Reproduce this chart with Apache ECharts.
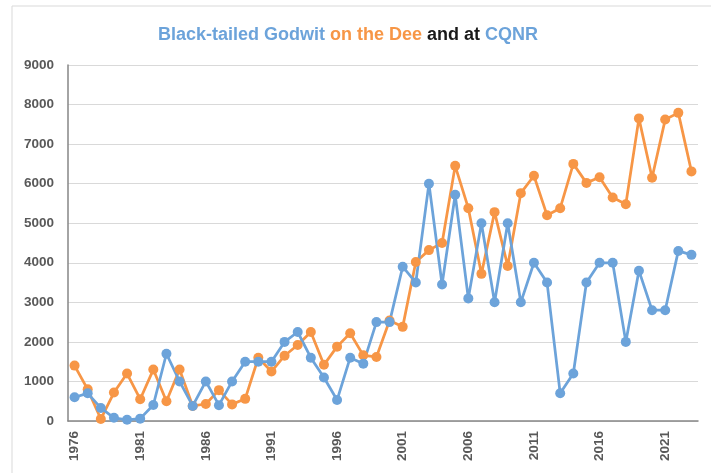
<!DOCTYPE html>
<html>
<head>
<meta charset="utf-8">
<script src="https://cdn.jsdelivr.net/npm/echarts@6/dist/echarts.min.js"></script>
<style>
  html, body { margin: 0; padding: 0; background: #fff; }
  #chart { width: 711px; height: 473px; }
</style>
</head>
<body>
<div id="chart"></div>
<script>
// years along the bottom
var years = [];
for (var y = 1976; y <= 2023; y++) years.push(String(y));

// Black-tailed Godwit counts
var deeCounts = [
  1400, 800, 50, 720, 1200, 550, 1300, 500, 1300, 380,
  430, 780, 420, 560, 1600, 1250, 1650, 1920, 2250, 1420,
  1880, 2220, 1660, 1620, 2540, 2380, 4020, 4320, 4500, 6450,
  5380, 3720, 5280, 3920, 5760, 6200, 5200, 5380, 6500, 6020,
  6160, 5650, 5480, 7650, 6150, 7620, 7790, 6310
];
var cqnrCounts = [
  600, 700, 330, 80, 30, 60, 405, 1700, 1000, 380,
  1000, 400, 1000, 1500, 1500, 1500, 2000, 2250, 1600, 1100,
  530, 1600, 1450, 2500, 2500, 3900, 3500, 6000, 3450, 5720,
  3100, 5000, 3000, 5000, 3000, 4000, 3500, 700, 1200, 3500,
  4000, 4000, 2000, 3800, 2800, 2800, 4300, 4200
];

var blue = '#6CA3DA';
var orange = '#F79646';
var labelFont = 'Liberation Sans';

var chart = echarts.init(document.getElementById('chart'));
chart.setOption({
  animation: false,
  backgroundColor: '#fff',
  title: {
    left: 343,
    top: 21,
    textAlign: 'center',
    text: '{b|Black-tailed Godwit }{o|on the Dee }{k|and at }{b|CQNR}',
    textStyle: {
      rich: {
        b: { color: blue, fontSize: 18, fontWeight: 'bold', fontFamily: labelFont },
        o: { color: orange, fontSize: 18, fontWeight: 'bold', fontFamily: labelFont },
        k: { color: '#1a1a1a', fontSize: 18, fontWeight: 'bold', fontFamily: labelFont }
      }
    }
  },
  graphic: [{
    type: 'rect',
    shape: { x: 12, y: 6, width: 760, height: 520 },
    style: { fill: 'none', stroke: '#d9d9d9', lineWidth: 1 },
    silent: true,
    z: -1
  }],
  grid: { left: 68, right: 13, top: 65, bottom: 52 },
  xAxis: {
    type: 'category',
    data: years,
    axisLine: { lineStyle: { color: '#868686', width: 1.5 } },
    axisTick: { interval: 0, length: 5, lineStyle: { color: '#868686' } },
    axisLabel: {
      interval: 4,
      rotate: 90,
      margin: 10,
      color: '#595959',
      fontSize: 13.5,
      fontWeight: 'bold',
      fontFamily: labelFont
    }
  },
  yAxis: {
    type: 'value',
    min: 0,
    max: 9000,
    interval: 1000,
    axisLine: { show: true, lineStyle: { color: '#868686', width: 1.5 } },
    axisTick: { show: false },
    splitLine: { lineStyle: { color: '#d9d9d9', width: 1 } },
    axisLabel: {
      margin: 14,
      color: '#595959',
      fontSize: 13.5,
      fontWeight: 'bold',
      fontFamily: labelFont,
      formatter: function (v) { return String(v); }
    }
  },
  series: [
    {
      name: 'Dee',
      type: 'line',
      data: deeCounts,
      symbol: 'circle',
      symbolSize: 10,
      showAllSymbol: true,
      color: orange,
      lineStyle: { color: orange, width: 2.75 },
      itemStyle: { color: orange }
    },
    {
      name: 'CQNR',
      type: 'line',
      data: cqnrCounts,
      symbol: 'circle',
      symbolSize: 10,
      showAllSymbol: true,
      color: blue,
      lineStyle: { color: blue, width: 2.75 },
      itemStyle: { color: blue }
    }
  ]
});
</script>
</body>
</html>
